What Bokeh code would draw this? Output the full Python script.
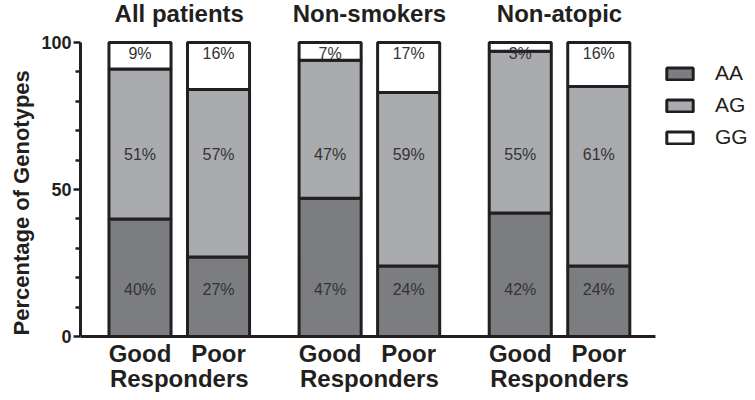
from bokeh.plotting import figure
from bokeh.models import (ColumnDataSource, Range1d, LinearAxis, FixedTicker,
                          Legend, LegendItem, Title)
from bokeh.core.properties import value
from bokeh.embed import file_html
from bokeh.resources import INLINE

# ---- data ----
groups = ["All patients", "Non-smokers", "Non-atopic"]
responders = ["Good", "Poor"]
group_word = "Responders"
genotypes = ["AA", "AG", "GG"]
aa = [40, 27, 47, 24, 42, 24]
ag = [51, 57, 47, 59, 55, 61]
gg = [9, 16, 7, 17, 3, 16]
y_ticks = [0, 50, 100]
y_minor = [10, 20, 30, 40, 60, 70, 80, 90]
y_label = "Percentage of Genotypes"

# ---- layout constants ----
W_FIG, H_FIG = 750, 396
LEFT = 80
PX_PER_UNIT = 65
GROUP_STEP = 2.925
PAIR_STEP = 1.208
BAR_W = 0.955
X0 = -59.5 / PX_PER_UNIT
X_AXIS_END = 7.93
Y_START, Y_END = -20.41, 114.29
colors = {"AA": "#7c7d81", "AG": "#aaabaf", "GG": "#ffffff"}
OUT = "#231f20"
FONT = "Liberation Sans"

xs, resp_lbl = [], []
for g in range(len(groups)):
    for i in range(len(responders)):
        xs.append(g * GROUP_STEP + i * PAIR_STEP)
        resp_lbl.append(responders[i])
group_centers = [g * GROUP_STEP + PAIR_STEP / 2 for g in range(len(groups))]

series = {"AA": aa, "AG": ag, "GG": gg}
bottoms = [0] * len(xs)
segs = {}
for gname in genotypes:
    vals = series[gname]
    tops = [min(100, b + v) for b, v in zip(bottoms, vals)]
    segs[gname] = (list(bottoms), tops)
    bottoms = tops

p = figure(width=W_FIG, height=H_FIG, output_backend="svg", toolbar_location=None,
           x_range=Range1d(X0, X0 + (W_FIG - LEFT) / PX_PER_UNIT),
           y_range=Range1d(Y_START, Y_END),
           min_border_left=LEFT, min_border_right=0, min_border_top=0,
           min_border_bottom=0, x_axis_type=None, y_axis_type=None)
p.outline_line_color = None
p.grid.visible = False
p.background_fill_color = "white"
p.border_fill_color = "white"

legend_items = []
label_y = {"AA": 16, "AG": 62, "GG": 96.3}
for gname in genotypes:
    b, t = segs[gname]
    src = ColumnDataSource(dict(x=xs, bottom=b, top=t,
                                lbl=[f"{v}%" for v in series[gname]],
                                ly=[label_y[gname]] * len(xs)))
    r = p.vbar(x="x", bottom="bottom", top="top", width=BAR_W, source=src,
               fill_color=colors[gname], line_color=OUT, line_width=3)
    p.text(x="x", y="ly", text="lbl", source=src, text_align="center",
           text_baseline="middle", text_font=value(FONT), text_font_size="16px",
           text_color="#333333")
    legend_items.append(LegendItem(label=gname, renderers=[r]))

# baseline (x axis line)
p.segment(x0=[X0], y0=[0], x1=[X_AXIS_END], y1=[0], line_color=OUT, line_width=3)

# category labels below the axis
p.text(x=xs, y=[-5.9] * len(xs), text=resp_lbl, text_align="center",
       text_baseline="middle", text_font=value(FONT), text_font_style="bold",
       text_font_size="24px", text_color=OUT)
p.text(x=group_centers, y=[-14.45] * len(group_centers),
       text=[group_word] * len(group_centers), text_align="center",
       text_baseline="middle", text_font=value(FONT), text_font_style="bold",
       text_font_size="24px", text_color=OUT)

# group titles above the bars
p.text(x=group_centers, y=[110.0] * len(group_centers), text=groups,
       text_align="center", text_baseline="middle", text_font=value(FONT),
       text_font_style="bold", text_font_size="24px", text_color=OUT)

# y axis
yax = LinearAxis(ticker=FixedTicker(ticks=y_ticks, minor_ticks=y_minor),
                 bounds=(0, 100))
yax.axis_line_width = 3
yax.axis_line_color = OUT
yax.major_tick_line_width = 2.5
yax.major_tick_line_color = OUT
yax.major_tick_out = 7
yax.major_tick_in = 0
yax.minor_tick_line_width = 2.5
yax.minor_tick_line_color = OUT
yax.minor_tick_out = 5
yax.minor_tick_in = 0
yax.major_label_text_font = FONT
yax.major_label_text_font_style = "bold"
yax.major_label_text_font_size = "18px"
yax.major_label_text_color = OUT
yax.major_label_standoff = 2
p.add_layout(yax, "left")

ytitle = Title(text=y_label, align="left", offset=61, standoff=9,
               text_font=FONT, text_font_style="bold", text_font_size="22px",
               text_color=OUT)
p.add_layout(ytitle, "left")

legend = Legend(items=legend_items, location=(583, 247), padding=0, margin=0,
                border_line_color=None, background_fill_alpha=0,
                glyph_width=33, glyph_height=15, label_height=24, spacing=8,
                label_standoff=19, label_text_font=FONT,
                label_text_font_size="21px", label_text_color=OUT)
p.add_layout(legend)

open("out.html", "w").write(file_html(p, INLINE))
